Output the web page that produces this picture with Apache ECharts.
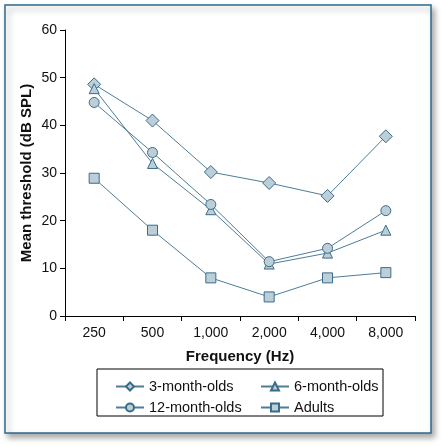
<!DOCTYPE html>
<html><head><meta charset="utf-8">
<script src="https://cdn.jsdelivr.net/npm/echarts@6/dist/echarts.min.js"></script>
<style>html,body{margin:0;padding:0;background:#fff}#c{width:444px;height:447px}</style>
</head><body><div id="c"></div>
<script>
const categories = ['250', '500', '1,000', '2,000', '4,000', '8,000'];
const threeMonth = [48.6, 41.0, 30.2, 27.9, 25.2, 37.7];
const sixMonth = [47.7, 32.0, 22.3, 10.9, 13.2, 18.0];
const twelveMonth = [44.8, 34.3, 23.4, 11.4, 14.2, 22.1];
const adults = [28.9, 18.0, 8.0, 4.0, 8.0, 9.1];
const yTicks = [0, 10, 20, 30, 40, 50, 60];

const lineColor = '#4d7d97';
const fill = '#bccfd9';
const stroke = '#3a6c88';
const font = 'Liberation Sans, Arial, sans-serif';

function mk(name, data, symbol, size) {
  return {
    name, type: 'line', data, symbol, symbolSize: size,
    lineStyle: { color: lineColor, width: 1 },
    itemStyle: { color: fill, borderColor: stroke, borderWidth: 1 },
    emphasis: { disabled: true }, animation: false
  };
}

const chart = echarts.init(document.getElementById('c'), null, { renderer: 'canvas' });
chart.setOption({
  animation: false,
  textStyle: { fontFamily: font },
  graphic: [
    { type: 'rect', shape: { x: 5, y: 5, width: 426, height: 428 },
      style: { fill: '#fff', stroke: '#2d6a8f', lineWidth: 1.5, shadowBlur: 6, shadowOffsetX: 3, shadowOffsetY: 4, shadowColor: 'rgba(0,0,0,0.35)' }, z: -10 },
    { type: 'rect', shape: { x: 97, y: 369, width: 286, height: 47 },
      style: { fill: 'none', stroke: '#000', lineWidth: 1 }, z: 10 },
    { type: 'text', x: 27, y: 173, rotation: Math.PI / 2,
      style: { text: 'Mean threshold (dB SPL)', font: 'bold 15px ' + font, fill: '#111', textAlign: 'center', textVerticalAlign: 'middle' } }
  ],
  grid: { left: 65, right: 29, top: 30, bottom: 131 },
  xAxis: {
    type: 'category', data: categories, boundaryGap: true,
    name: 'Frequency (Hz)', nameLocation: 'middle', nameGap: 33,
    nameTextStyle: { fontWeight: 'bold', fontSize: 15, color: '#111', fontFamily: font },
    axisLine: { lineStyle: { color: '#000', width: 1 } },
    axisTick: { show: true, length: 5, lineStyle: { color: '#000' } },
    axisLabel: { fontSize: 14, color: '#111', margin: 10, fontFamily: font },
    splitLine: { show: false }
  },
  yAxis: {
    type: 'value', min: 0, max: 60, interval: 10,
    axisLine: { show: true, lineStyle: { color: '#000', width: 1 } },
    axisTick: { show: true, length: 5, lineStyle: { color: '#000' } },
    axisLabel: { fontSize: 14, color: '#111', margin: 8, fontFamily: font,
      formatter: v => yTicks.includes(v) ? String(v) : '' },
    splitLine: { show: false }
  },
  legend: [
    { data: ['3-month-olds', '12-month-olds'], orient: 'vertical', left: 110, top: 374,
      itemWidth: 28, itemHeight: 10, itemGap: 6, textStyle: { fontSize: 14.5, color: '#111', fontFamily: font } },
    { data: ['6-month-olds', 'Adults'], orient: 'vertical', left: 255, top: 374,
      itemWidth: 28, itemHeight: 10, itemGap: 6, textStyle: { fontSize: 14.5, color: '#111', fontFamily: font } }
  ],
  series: [
    mk('3-month-olds', threeMonth, 'diamond', 13),
    mk('6-month-olds', sixMonth, 'triangle', 10),
    mk('12-month-olds', twelveMonth, 'circle', 10),
    mk('Adults', adults, 'rect', 10)
  ]
});
</script></body></html>
